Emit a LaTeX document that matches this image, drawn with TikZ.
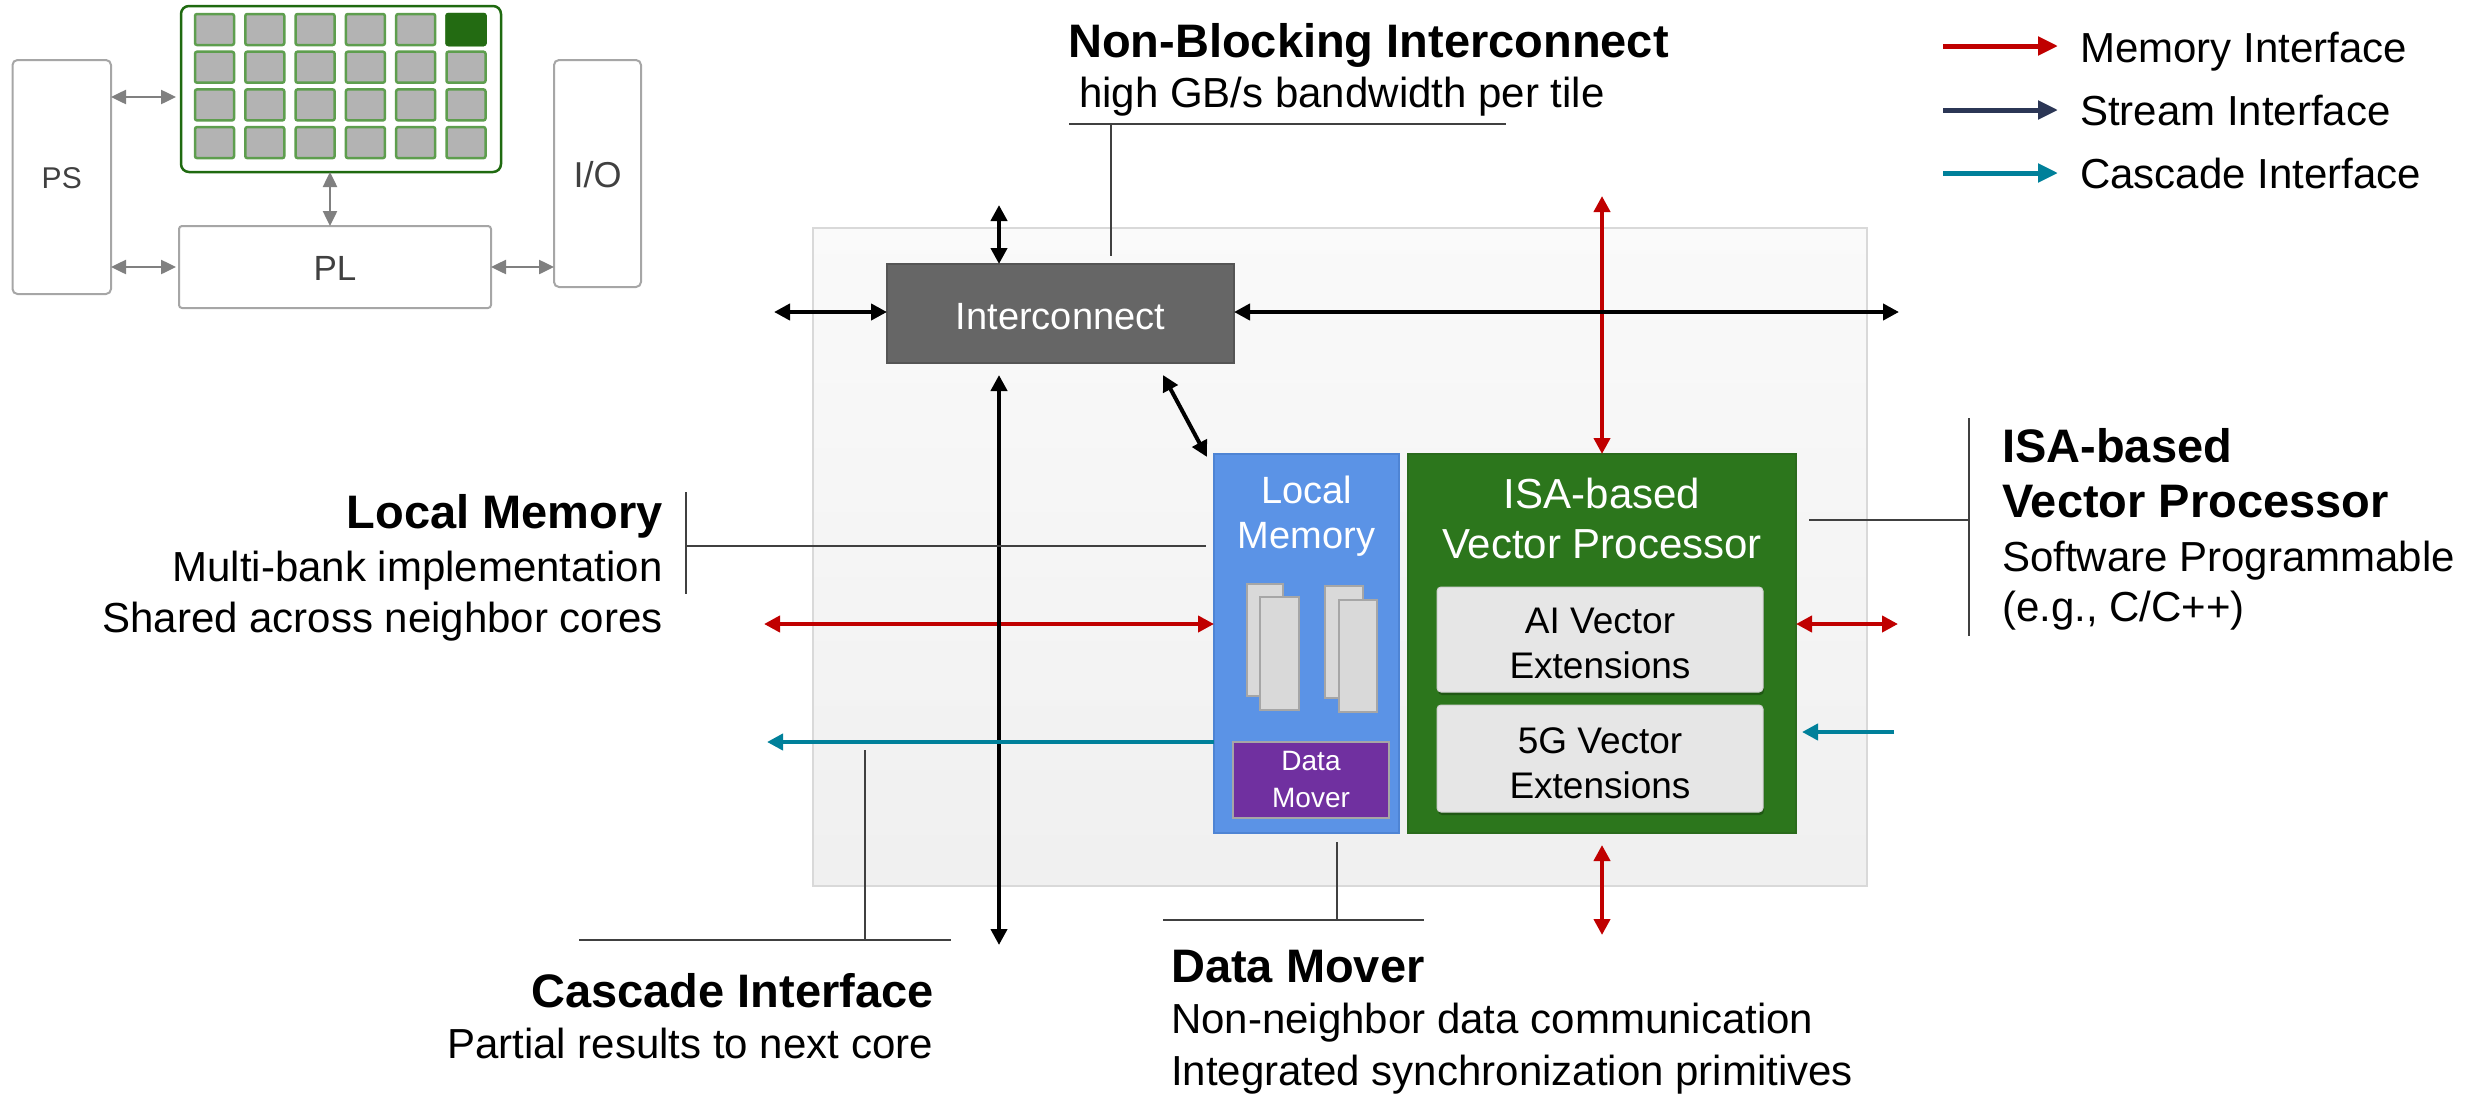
\documentclass[tikz,border=0pt]{standalone}
\usepackage{fontspec}
\setmainfont{Liberation Sans}
\usetikzlibrary{arrows.meta,calc,shadows}

\definecolor{memred}{HTML}{C00000}
\definecolor{streamblue}{HTML}{2B3655}
\definecolor{cascteal}{HTML}{00809A}
\definecolor{icgray}{HTML}{666666}
\definecolor{icedge}{HTML}{555555}
\definecolor{lmblue}{HTML}{5B93E6}
\definecolor{lmedge}{HTML}{4E84D4}
\definecolor{vpgreen}{HTML}{2C761C}
\definecolor{vpedge}{HTML}{2A6B1C}
\definecolor{dmpurple}{HTML}{7030A0}
\definecolor{extgray}{HTML}{E6E6E6}
\definecolor{extedge}{HTML}{D2D2D2}
\definecolor{bankgray}{HTML}{D9D9D9}
\definecolor{edgegray}{HTML}{A6A6A6}
\definecolor{leadgray}{HTML}{404040}
\definecolor{bgedge}{HTML}{D9D9D9}
\definecolor{arraygreen}{HTML}{1F6A10}
\definecolor{tilegreen}{HTML}{5E9E4E}
\definecolor{tilegray}{HTML}{B3B3B3}
\definecolor{tiledark}{HTML}{236B12}
\definecolor{minigray}{HTML}{808080}
\definecolor{minitext}{HTML}{404040}

\begin{document}
\begin{tikzpicture}[x=1pt,y=-1pt,
  box/.style={rectangle, inner sep=0pt, outer sep=0pt},
  minibox/.style={box, draw=edgegray, line width=2pt, fill=white, rounded corners=5pt},
  tile/.style={box, draw=tilegreen, line width=2.5pt, fill=tilegray,
               minimum width=39pt, minimum height=31pt, rounded corners=2pt},
  minitxt/.style={text=minitext, inner sep=0pt, anchor=base},
  miniarr/.style={draw=minigray, line width=2.5pt,
                  {Triangle[length=15pt,width=14pt]}-{Triangle[length=15pt,width=14pt]}},
  blkarr/.style={draw=black, line width=4.5pt,
                 {Triangle[length=16pt,width=16pt]}-{Triangle[length=16pt,width=16pt]}},
  redarr/.style={draw=memred, line width=4.5pt,
                 {Triangle[length=16pt,width=16pt]}-{Triangle[length=16pt,width=16pt]}},
  tealarr/.style={draw=cascteal, line width=4.5pt, -{Triangle[length=16pt,width=16pt]}},
  legarr/.style={line width=5pt, -{Triangle[length=20pt,width=18pt]}},
  lead/.style={draw=leadgray, line width=2.2pt},
  hd/.style={font=\fontsize{47}{56}\selectfont\bfseries, inner sep=0pt},
  bd/.style={font=\fontsize{42}{50}\selectfont, inner sep=0pt},
  lg/.style={font=\fontsize{42}{50}\selectfont, inner sep=0pt, anchor=base west},
  wtxt/.style={text=white, inner sep=0pt, anchor=base},
  bank/.style={box, draw=edgegray, line width=2pt, fill=bankgray},
  extbox/.style={box, draw=extedge, line width=1pt, fill=extgray, rounded corners=4pt,
                 minimum width=326pt,
                 drop shadow={shadow xshift=1pt, shadow yshift=-3pt, fill=black, opacity=0.25}}
]
\useasboundingbox (0,0) rectangle (2470,1095);

% ---------- device overview (top left) ----------
\node[minibox, minimum width=98.5pt, minimum height=234pt] (ps) at (61.75,177) {};
\node[minibox, minimum width=87pt, minimum height=227pt] (io) at (597.5,173.5) {};
\node[minibox, minimum width=312pt, minimum height=82pt, rounded corners=3pt] (pl) at (335,267) {};
\node[box, draw=arraygreen, line width=2.5pt, fill=white, rounded corners=8pt,
      minimum width=320pt, minimum height=166pt] (arr) at (341,89) {};
\foreach \c in {0,...,5}{
  \foreach \r in {0,...,3}{
    \node[tile] (t\c\r) at ({214.5+50.3*\c},{29.5+37.7*\r}) {};
  }
}
\node[tile, fill=tiledark, draw=tiledark] (t50d) at (t50) {};

\node[minitxt, font=\fontsize{30}{36}\selectfont] (psT) at (61.75,188) {PS};
\node[minitxt, font=\fontsize{35}{42}\selectfont] (plT) at (335,280) {PL};
\node[minitxt, font=\fontsize{36}{43}\selectfont] (ioT) at (597.5,187) {I/O};

\coordinate (mA) at (0,97);
\coordinate (mV) at (330,0);
\draw[miniarr, shorten >=5pt] (ps.east |- mA) -- (arr.west |- mA);
\draw[miniarr, shorten >=3pt] (ps.east |- pl.west) -- (pl.west);
\draw[miniarr] (mV |- arr.south) -- (mV |- pl.north);
\draw[miniarr] (pl.east) -- (io.west |- pl.east);

% ---------- legend ----------
\coordinate (lgA0) at (1943,46);  \coordinate (lgA1) at (2058,46);
\coordinate (lgB0) at (1943,110); \coordinate (lgB1) at (2058,110);
\coordinate (lgC0) at (1943,173); \coordinate (lgC1) at (2058,173);
\draw[legarr, draw=memred] (lgA0) -- (lgA1);
\draw[legarr, draw=streamblue] (lgB0) -- (lgB1);
\draw[legarr, draw=cascteal] (lgC0) -- (lgC1);
\node[lg] (lgA) at (2080,62) {Memory Interface};
\node[lg] (lgB) at (2080,125) {Stream Interface};
\node[lg] (lgC) at (2080,188) {Cascade Interface};

% ---------- AI engine tile ----------
\node[box, draw=bgedge, line width=2pt, top color=white!98!black, middle color=black!10,
      bottom color=black!6, minimum width=1054pt, minimum height=658pt] (bg) at (1340,557) {};

\node[box, draw=icedge, line width=1.5pt, fill=icgray,
      minimum width=347pt, minimum height=99pt] (ic) at (1060.5,313.5) {};
\node[wtxt, font=\fontsize{38}{46}\selectfont] (icT) at (1060.5,329) {Interconnect};

\node[box, draw=lmedge, line width=1.5pt, fill=lmblue,
      minimum width=185pt, minimum height=379pt] (lm) at (1306.5,643.5) {};
\node[wtxt, font=\fontsize{38}{46}\selectfont] (lmT1) at (1306.5,503) {Local};
\node[wtxt, font=\fontsize{38}{46}\selectfont] (lmT2) at (1306.5,548) {Memory};

\node[bank, minimum width=36pt, minimum height=112pt] (bk1) at (1265,640) {};
\node[bank, minimum width=39pt, minimum height=113pt] (bk2) at (1279.5,653.5) {};
\node[bank, minimum width=38pt, minimum height=112pt] (bk3) at (1344,642) {};
\node[bank, minimum width=38pt, minimum height=112pt] (bk4) at (1358,656) {};

\node[box, draw=edgegray, line width=2pt, fill=dmpurple,
      minimum width=156pt, minimum height=76pt] (dm) at (1311,780) {};
\node[wtxt, font=\fontsize{28}{34}\selectfont] (dmT1) at (1311,770) {Data};
\node[wtxt, font=\fontsize{28}{34}\selectfont] (dmT2) at (1311,807) {Mover};

\node[box, draw=vpedge, line width=1.5pt, fill=vpgreen,
      minimum width=388pt, minimum height=379pt] (gb) at (1602,643.5) {};
\node[wtxt, font=\fontsize{42}{50}\selectfont] (gbT1) at (1602,508) {ISA-based};
\node[wtxt, font=\fontsize{42}{50}\selectfont] (gbT2) at (1602,558) {Vector Processor};

\node[extbox, minimum height=105pt] (ai) at (1600,639.5) {};
\node[inner sep=0pt, anchor=base, font=\fontsize{37}{44}\selectfont] (aiT1) at (1600,633) {AI Vector};
\node[inner sep=0pt, anchor=base, font=\fontsize{37}{44}\selectfont] (aiT2) at (1600,678) {Extensions};
\node[extbox, minimum height=107pt] (fg) at (1600,758.5) {};
\node[inner sep=0pt, anchor=base, font=\fontsize{37}{44}\selectfont] (fgT1) at (1600,753) {5G Vector};
\node[inner sep=0pt, anchor=base, font=\fontsize{37}{44}\selectfont] (fgT2) at (1600,798) {Extensions};

% memory interface connectors
\coordinate (memUp) at (1602,196);
\coordinate (memDown) at (1602,935);
\coordinate (memLeft) at (764,624);
\coordinate (memRight) at (1898,624);
\draw[redarr] (memUp) -- (gb.north);
\draw[redarr, shorten <=12pt] (gb.south) -- (memDown);
\draw[redarr] (memLeft) -- (lm.west |- memLeft);
\draw[redarr] (gb.east |- memRight) -- (memRight);

% stream interface connectors
\coordinate (icUp) at (999,205);
\coordinate (icLeft) at (774,312);
\coordinate (icRight) at (1899,312);
\coordinate (icDown) at (999,945);
\coordinate (icDiag) at (1163,375);
\draw[blkarr] (icUp) -- (icUp |- ic.north);
\draw[blkarr] (icLeft) -- (ic.west |- icLeft);
\draw[blkarr] (ic.east |- icRight) -- (icRight);
\draw[blkarr, shorten <=12pt] (icDown |- ic.south) -- (icDown);
\draw[blkarr, line width=4pt] (icDiag) -- ([xshift=-7pt,yshift=-3pt]lm.north west);

% cascade interface connectors
\coordinate (cascOut) at (767,742);
\coordinate (cascIn) at (1894,732);
\draw[tealarr] (lm.west |- cascOut) -- (cascOut);
\draw[tealarr, shorten >=6pt] (cascIn) -- (gb.east |- cascIn);

% ---------- callouts ----------
\node[hd, anchor=base west] (nbH) at (1068,57) {Non-Blocking Interconnect};
\node[bd, anchor=base west] (nbT) at (1079,107) {high GB/s bandwidth per tile};
\coordinate (nbL) at (1069,124); \coordinate (nbR) at (1506,124);
\coordinate (nbJ) at (1111,124); \coordinate (nbE) at (1111,256);
\draw[lead] (nbL) -- (nbR);
\draw[lead, line width=1.8pt] (nbJ) -- (nbE);

\node[hd, anchor=base east] (lmH) at (663,528) {Local Memory};
\node[bd, anchor=base east] (lmD1) at (663,581) {Multi-bank implementation};
\node[bd, anchor=base east] (lmD2) at (663,632) {Shared across neighbor cores};
\coordinate (lmA) at (686,492); \coordinate (lmB) at (686,594);
\coordinate (lmJ) at (686,546); \coordinate (lmE) at (1206,546);
\draw[lead, line width=1.8pt] (lmA) -- (lmB);
\draw[lead] (lmJ) -- (lmE);

\node[hd, anchor=base west] (vpH1) at (2002,462) {ISA-based};
\node[hd, anchor=base west] (vpH2) at (2002,517) {Vector Processor};
\node[bd, anchor=base west] (vpD1) at (2002,571) {Software Programmable};
\node[bd, anchor=base west] (vpD2) at (2002,621) {(e.g., C/C++)};
\coordinate (vpA) at (1969,418); \coordinate (vpB) at (1969,636);
\coordinate (vpJ) at (1969,520); \coordinate (vpE) at (1809,520);
\draw[lead, line width=1.8pt] (vpA) -- (vpB);
\draw[lead] (vpJ) -- (vpE);

\node[hd, anchor=base east] (caH) at (934,1007) {Cascade Interface};
\node[bd, anchor=base east] (caD) at (933,1058) {Partial results to next core};
\coordinate (caL) at (579,940); \coordinate (caR) at (951,940);
\coordinate (caJ) at (865,940); \coordinate (caE) at (865,750);
\draw[lead] (caL) -- (caR);
\draw[lead, line width=1.8pt] (caJ) -- (caE);

\node[hd, anchor=base west] (dmH) at (1171,982) {Data Mover};
\node[bd, anchor=base west] (dmD1) at (1171,1033) {Non-neighbor data communication};
\node[bd, anchor=base west] (dmD2) at (1171,1085) {Integrated synchronization primitives};
\coordinate (dmL) at (1163,920); \coordinate (dmR) at (1424,920);
\coordinate (dmJ) at (1337,920); \coordinate (dmE) at (1337,842);
\draw[lead] (dmL) -- (dmR);
\draw[lead, line width=1.8pt] (dmJ) -- (dmE);
\end{tikzpicture}
\end{document}
